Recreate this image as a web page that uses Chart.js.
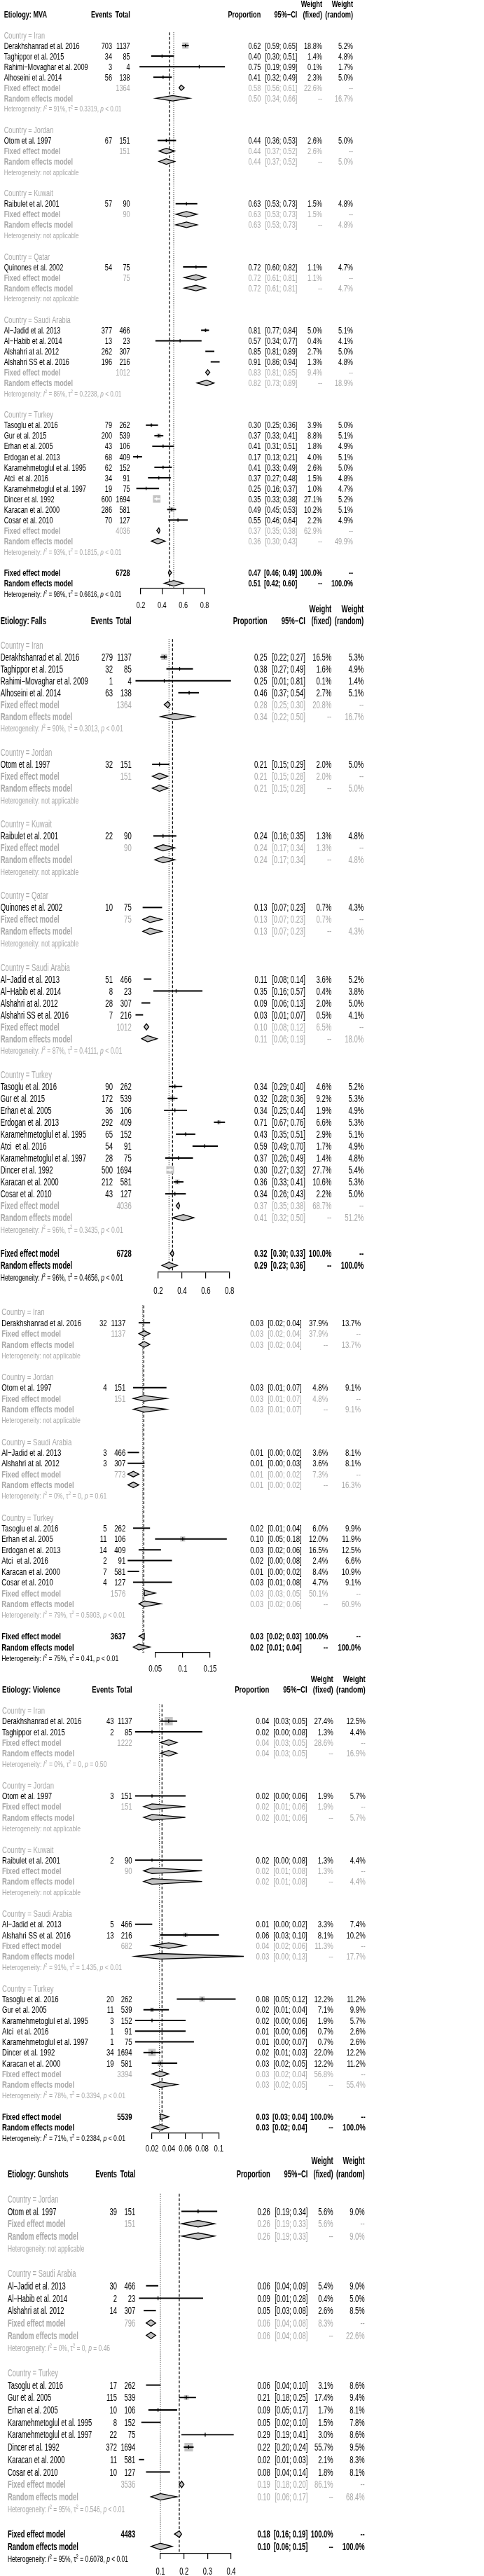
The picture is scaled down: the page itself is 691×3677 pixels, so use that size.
<!DOCTYPE html>
<html>
<head>
<meta charset="utf-8">
<title>Forest plots by etiology</title>
<script src="https://cdn.jsdelivr.net/npm/chart.js@4.4.1/dist/chart.umd.min.js"></script>
<style>
  html, body { margin: 0; padding: 0; background: #fff; }
  #wrap { position: relative; width: 691px; height: 3677px; overflow: hidden; }
  #wrap canvas { position: absolute; left: 0; top: 0; width: 691px; height: 3677px; }
</style>
</head>
<body>
<div id="wrap"></div>
<script>
// study rows: [name, country, events, total, proportion, lower, upper, weight fixed %, weight random %]
// subgroup rows: [country, total, fixed est, lo, hi, weight fixed %, random est, lo, hi, weight random %, I2, tau2, p]
// overall: [total, fixed est, lo, hi, random est, lo, hi, I2, tau2, p]

const mvaStudies = [
  ['Derakhshanrad et al. 2016', 'Iran', 703, 1137, 0.62, 0.59, 0.65, 18.8, 5.2],
  ['Taghippor et al. 2015', 'Iran', 34, 85, 0.40, 0.30, 0.51, 1.4, 4.8],
  ['Rahimi\u2212Movaghar et al. 2009', 'Iran', 3, 4, 0.75, 0.19, 0.99, 0.1, 1.7],
  ['Alhoseini et al. 2014', 'Iran', 56, 138, 0.41, 0.32, 0.49, 2.3, 5.0],
  ['Otom et al. 1997', 'Jordan', 67, 151, 0.44, 0.36, 0.53, 2.6, 5.0],
  ['Raibulet et al. 2001', 'Kuwait', 57, 90, 0.63, 0.53, 0.73, 1.5, 4.8],
  ['Quinones et al. 2002', 'Qatar', 54, 75, 0.72, 0.60, 0.82, 1.1, 4.7],
  ['Al\u2212Jadid et al. 2013', 'Saudi Arabia', 377, 466, 0.81, 0.77, 0.84, 5.0, 5.1],
  ['Al\u2212Habib et al. 2014', 'Saudi Arabia', 13, 23, 0.57, 0.34, 0.77, 0.4, 4.1],
  ['Alshahri at al. 2012', 'Saudi Arabia', 262, 307, 0.85, 0.81, 0.89, 2.7, 5.0],
  ['Alshahri SS et al. 2016', 'Saudi Arabia', 196, 216, 0.91, 0.86, 0.94, 1.3, 4.8],
  ['Tasoglu et al. 2016', 'Turkey', 79, 262, 0.30, 0.25, 0.36, 3.9, 5.0],
  ['Gur et al. 2015', 'Turkey', 200, 539, 0.37, 0.33, 0.41, 8.8, 5.1],
  ['Erhan et al. 2005', 'Turkey', 43, 106, 0.41, 0.31, 0.51, 1.8, 4.9],
  ['Erdogan et al. 2013', 'Turkey', 68, 409, 0.17, 0.13, 0.21, 4.0, 5.1],
  ['Karamehmetoglul et al. 1995', 'Turkey', 62, 152, 0.41, 0.33, 0.49, 2.6, 5.0],
  ['Atci  et al. 2016', 'Turkey', 34, 91, 0.37, 0.27, 0.48, 1.5, 4.8],
  ['Karamehmetoglul et al. 1997', 'Turkey', 19, 75, 0.25, 0.16, 0.37, 1.0, 4.7],
  ['Dincer et al. 1992', 'Turkey', 600, 1694, 0.35, 0.33, 0.38, 27.1, 5.2],
  ['Karacan et al. 2000', 'Turkey', 286, 581, 0.49, 0.45, 0.53, 10.2, 5.1],
  ['Cosar et al. 2010', 'Turkey', 70, 127, 0.55, 0.46, 0.64, 2.2, 4.9]
];
const mvaGroups = [
  ['Iran', 1364, 0.58, 0.56, 0.61, 22.6, 0.50, 0.34, 0.66, 16.7, '91%', '0.3319', '< 0.01'],
  ['Jordan', 151, 0.44, 0.37, 0.52, 2.6, 0.44, 0.37, 0.52, 5.0, null, null, null],
  ['Kuwait', 90, 0.63, 0.53, 0.73, 1.5, 0.63, 0.53, 0.73, 4.8, null, null, null],
  ['Qatar', 75, 0.72, 0.61, 0.81, 1.1, 0.72, 0.61, 0.81, 4.7, null, null, null],
  ['Saudi Arabia', 1012, 0.83, 0.81, 0.85, 9.4, 0.82, 0.73, 0.89, 18.9, '86%', '0.2238', '< 0.01'],
  ['Turkey', 4036, 0.37, 0.35, 0.38, 62.9, 0.36, 0.30, 0.43, 49.9, '93%', '0.1815', '< 0.01']
];
const mvaOverall = [6728, 0.47, 0.46, 0.49, 0.51, 0.42, 0.60, '98%', '0.6616', '< 0.01'];
const mvaTicks = [0.2, 0.4, 0.6, 0.8];
const mvaLines = [0.47, 0.51];

const fallsStudies = [
  ['Derakhshanrad et al. 2016', 'Iran', 279, 1137, 0.25, 0.22, 0.27, 16.5, 5.3],
  ['Taghippor et al. 2015', 'Iran', 32, 85, 0.38, 0.27, 0.49, 1.6, 4.9],
  ['Rahimi\u2212Movaghar et al. 2009', 'Iran', 1, 4, 0.25, 0.01, 0.81, 0.1, 1.4],
  ['Alhoseini et al. 2014', 'Iran', 63, 138, 0.46, 0.37, 0.54, 2.7, 5.1],
  ['Otom et al. 1997', 'Jordan', 32, 151, 0.21, 0.15, 0.29, 2.0, 5.0],
  ['Raibulet et al. 2001', 'Kuwait', 22, 90, 0.24, 0.16, 0.35, 1.3, 4.8],
  ['Quinones et al. 2002', 'Qatar', 10, 75, 0.13, 0.07, 0.23, 0.7, 4.3],
  ['Al\u2212Jadid et al. 2013', 'Saudi Arabia', 51, 466, 0.11, 0.08, 0.14, 3.6, 5.2],
  ['Al\u2212Habib et al. 2014', 'Saudi Arabia', 8, 23, 0.35, 0.16, 0.57, 0.4, 3.8],
  ['Alshahri at al. 2012', 'Saudi Arabia', 28, 307, 0.09, 0.06, 0.13, 2.0, 5.0],
  ['Alshahri SS et al. 2016', 'Saudi Arabia', 7, 216, 0.03, 0.01, 0.07, 0.5, 4.1],
  ['Tasoglu et al. 2016', 'Turkey', 90, 262, 0.34, 0.29, 0.40, 4.6, 5.2],
  ['Gur et al. 2015', 'Turkey', 172, 539, 0.32, 0.28, 0.36, 9.2, 5.3],
  ['Erhan et al. 2005', 'Turkey', 36, 106, 0.34, 0.25, 0.44, 1.9, 4.9],
  ['Erdogan et al. 2013', 'Turkey', 292, 409, 0.71, 0.67, 0.76, 6.6, 5.3],
  ['Karamehmetoglul et al. 1995', 'Turkey', 65, 152, 0.43, 0.35, 0.51, 2.9, 5.1],
  ['Atci  et al. 2016', 'Turkey', 54, 91, 0.59, 0.49, 0.70, 1.7, 4.9],
  ['Karamehmetoglul et al. 1997', 'Turkey', 28, 75, 0.37, 0.26, 0.49, 1.4, 4.8],
  ['Dincer et al. 1992', 'Turkey', 500, 1694, 0.30, 0.27, 0.32, 27.7, 5.4],
  ['Karacan et al. 2000', 'Turkey', 212, 581, 0.36, 0.33, 0.41, 10.6, 5.3],
  ['Cosar et al. 2010', 'Turkey', 43, 127, 0.34, 0.26, 0.43, 2.2, 5.0]
];
const fallsGroups = [
  ['Iran', 1364, 0.28, 0.25, 0.30, 20.8, 0.34, 0.22, 0.50, 16.7, '90%', '0.3013', '< 0.01'],
  ['Jordan', 151, 0.21, 0.15, 0.28, 2.0, 0.21, 0.15, 0.28, 5.0, null, null, null],
  ['Kuwait', 90, 0.24, 0.17, 0.34, 1.3, 0.24, 0.17, 0.34, 4.8, null, null, null],
  ['Qatar', 75, 0.13, 0.07, 0.23, 0.7, 0.13, 0.07, 0.23, 4.3, null, null, null],
  ['Saudi Arabia', 1012, 0.10, 0.08, 0.12, 6.5, 0.11, 0.06, 0.19, 18.0, '87%', '0.4111', '< 0.01'],
  ['Turkey', 4036, 0.37, 0.35, 0.38, 68.7, 0.41, 0.32, 0.50, 51.2, '96%', '0.3435', '< 0.01']
];
const fallsOverall = [6728, 0.32, 0.30, 0.33, 0.29, 0.23, 0.36, '96%', '0.4656', '< 0.01'];
const fallsTicks = [0.2, 0.4, 0.6, 0.8];
const fallsLines = [0.32, 0.29];

const otherStudies = [
  ['Derakhshanrad et al. 2016', 'Iran', 32, 1137, 0.03, 0.02, 0.04, 37.9, 13.7],
  ['Otom et al. 1997', 'Jordan', 4, 151, 0.03, 0.01, 0.07, 4.8, 9.1],
  ['Al\u2212Jadid et al. 2013', 'Saudi Arabia', 3, 466, 0.01, 0.00, 0.02, 3.6, 8.1],
  ['Alshahri at al. 2012', 'Saudi Arabia', 3, 307, 0.01, 0.00, 0.03, 3.6, 8.1],
  ['Tasoglu et al. 2016', 'Turkey', 5, 262, 0.02, 0.01, 0.04, 6.0, 9.9],
  ['Erhan et al. 2005', 'Turkey', 11, 106, 0.10, 0.05, 0.18, 12.0, 11.9],
  ['Erdogan et al. 2013', 'Turkey', 14, 409, 0.03, 0.02, 0.06, 16.5, 12.5],
  ['Atci  et al. 2016', 'Turkey', 2, 91, 0.02, 0.00, 0.08, 2.4, 6.6],
  ['Karacan et al. 2000', 'Turkey', 7, 581, 0.01, 0.00, 0.02, 8.4, 10.9],
  ['Cosar et al. 2010', 'Turkey', 4, 127, 0.03, 0.01, 0.08, 4.7, 9.1]
];
const otherGroups = [
  ['Iran', 1137, 0.03, 0.02, 0.04, 37.9, 0.03, 0.02, 0.04, 13.7, null, null, null],
  ['Jordan', 151, 0.03, 0.01, 0.07, 4.8, 0.03, 0.01, 0.07, 9.1, null, null, null],
  ['Saudi Arabia', 773, 0.01, 0.00, 0.02, 7.3, 0.01, 0.00, 0.02, 16.3, '0%', '0', '= 0.61'],
  ['Turkey', 1576, 0.03, 0.03, 0.05, 50.1, 0.03, 0.02, 0.06, 60.9, '79%', '0.5903', '< 0.01']
];
const otherOverall = [3637, 0.03, 0.02, 0.03, 0.02, 0.01, 0.04, '75%', '0.41', '< 0.01'];
const otherTicks = [0.05, 0.1, 0.15];
const otherLines = [0.029, 0.027];

const violenceStudies = [
  ['Derakhshanrad et al. 2016', 'Iran', 43, 1137, 0.04, 0.03, 0.05, 27.4, 12.5],
  ['Taghippor et al. 2015', 'Iran', 2, 85, 0.02, 0.00, 0.08, 1.3, 4.4],
  ['Otom et al. 1997', 'Jordan', 3, 151, 0.02, 0.00, 0.06, 1.9, 5.7],
  ['Raibulet et al. 2001', 'Kuwait', 2, 90, 0.02, 0.00, 0.08, 1.3, 4.4],
  ['Al\u2212Jadid et al. 2013', 'Saudi Arabia', 5, 466, 0.01, 0.00, 0.02, 3.3, 7.4],
  ['Alshahri SS et al. 2016', 'Saudi Arabia', 13, 216, 0.06, 0.03, 0.10, 8.1, 10.2],
  ['Tasoglu et al. 2016', 'Turkey', 20, 262, 0.08, 0.05, 0.12, 12.2, 11.2],
  ['Gur et al. 2005', 'Turkey', 11, 539, 0.02, 0.01, 0.04, 7.1, 9.9],
  ['Karamehmetoglul et al. 1995', 'Turkey', 3, 152, 0.02, 0.00, 0.06, 1.9, 5.7],
  ['Atci  et al. 2016', 'Turkey', 1, 91, 0.01, 0.00, 0.06, 0.7, 2.6],
  ['Karamehmetoglul et al. 1997', 'Turkey', 1, 75, 0.01, 0.00, 0.07, 0.7, 2.6],
  ['Dincer et al. 1992', 'Turkey', 34, 1694, 0.02, 0.01, 0.03, 22.0, 12.2],
  ['Karacan et al. 2000', 'Turkey', 19, 581, 0.03, 0.02, 0.05, 12.2, 11.2]
];
const violenceGroups = [
  ['Iran', 1222, 0.04, 0.03, 0.05, 28.6, 0.04, 0.03, 0.05, 16.9, '0%', '0', '= 0.50'],
  ['Jordan', 151, 0.02, 0.01, 0.06, 1.9, 0.02, 0.01, 0.06, 5.7, null, null, null],
  ['Kuwait', 90, 0.02, 0.01, 0.08, 1.3, 0.02, 0.01, 0.08, 4.4, null, null, null],
  ['Saudi Arabia', 682, 0.04, 0.02, 0.06, 11.3, 0.03, 0.00, 0.13, 17.7, '91%', '1.435', '< 0.01'],
  ['Turkey', 3394, 0.03, 0.02, 0.04, 56.8, 0.03, 0.02, 0.05, 55.4, '78%', '0.3394', '< 0.01']
];
const violenceOverall = [5539, 0.03, 0.03, 0.04, 0.03, 0.02, 0.04, '71%', '0.2384', '< 0.01'];
const violenceTicks = [0.02, 0.04, 0.06, 0.08, 0.1];
const violenceLines = [0.032, 0.029];

const gunshotStudies = [
  ['Otom et al. 1997', 'Jordan', 39, 151, 0.26, 0.19, 0.34, 5.6, 9.0],
  ['Al\u2212Jadid et al. 2013', 'Saudi Arabia', 30, 466, 0.06, 0.04, 0.09, 5.4, 9.0],
  ['Al\u2212Habib et al. 2014', 'Saudi Arabia', 2, 23, 0.09, 0.01, 0.28, 0.4, 5.0],
  ['Alshahri at al. 2012', 'Saudi Arabia', 14, 307, 0.05, 0.03, 0.08, 2.6, 8.5],
  ['Tasoglu et al. 2016', 'Turkey', 17, 262, 0.06, 0.04, 0.10, 3.1, 8.6],
  ['Gur et al. 2005', 'Turkey', 115, 539, 0.21, 0.18, 0.25, 17.4, 9.4],
  ['Erhan et al. 2005', 'Turkey', 10, 106, 0.09, 0.05, 0.17, 1.7, 8.1],
  ['Karamehmetoglul et al. 1995', 'Turkey', 8, 152, 0.05, 0.02, 0.10, 1.5, 7.8],
  ['Karamehmetoglul et al. 1997', 'Turkey', 22, 75, 0.29, 0.19, 0.41, 3.0, 8.6],
  ['Dincer et al. 1992', 'Turkey', 372, 1694, 0.22, 0.20, 0.24, 55.7, 9.5],
  ['Karacan et al. 2000', 'Turkey', 11, 581, 0.02, 0.01, 0.03, 2.1, 8.3],
  ['Cosar et al. 2010', 'Turkey', 10, 127, 0.08, 0.04, 0.14, 1.8, 8.1]
];
const gunshotGroups = [
  ['Jordan', 151, 0.26, 0.19, 0.33, 5.6, 0.26, 0.19, 0.33, 9.0, null, null, null],
  ['Saudi Arabia', 796, 0.06, 0.04, 0.08, 8.3, 0.06, 0.04, 0.08, 22.6, '0%', '0', '= 0.46'],
  ['Turkey', 3536, 0.19, 0.18, 0.20, 86.1, 0.10, 0.06, 0.17, 68.4, '95%', '0.546', '< 0.01']
];
const gunshotOverall = [4483, 0.18, 0.16, 0.19, 0.10, 0.06, 0.15, '95%', '0.6078', '< 0.01'];
const gunshotTicks = [0.1, 0.2, 0.3, 0.4];
const gunshotLines = [0.18, 0.10];

// page geometry of each stacked panel (pixels on the page)
const layouts = [
  { weightY: 5, headY: 20.7, y0: 50, pitch: 15.05, axisY: 839.3, tickLen: 9, labelY: 863.3, px: [201, 292], font: 12.5, refW: 108,
    col: [5.7, 160, 185.7, 372.3, 424.3, 460, 504], box: 10.7, lineStart: -0.25 },
  { weightY: 869, headY: 886, y0: 920.7, pitch: 17.03, axisY: 1815.7, tickLen: 9, labelY: 1841.7, px: [226, 327.7], font: 14.1, refW: 112.7,
    col: [0.7, 161, 187.7, 381.5, 436, 473.3, 519.3], box: 10.9, lineStart: -0.5 },
  { weightY: null, headY: null, y0: 1872.7, pitch: 15.43, axisY: 2359, tickLen: 7, labelY: 2381.7, px: [221.7, 300], font: 12.9, refW: 113.7,
    col: [2.3, 152.7, 179.3, 376, 430.7, 468.3, 515], box: 12.7, lineStart: -0.6 },
  { weightY: 2396, headY: 2411, y0: 2441.5, pitch: 15.26, axisY: 3045, tickLen: 8, labelY: 3066.7, px: [217, 312.3], font: 12.9, refW: 113.3,
    col: [3, 162.7, 188.7, 384.3, 438.7, 475.7, 521.7], box: 11.7, lineStart: -0.55 },
  { weightY: 3084.3, headY: 3103.3, y0: 3138.7, pitch: 17.72, axisY: 3645, tickLen: 8, labelY: 3670, px: [229, 330], font: 14.2, refW: 110.8,
    col: [11, 167, 193.3, 385.7, 439.3, 475.7, 520.7], box: 12.2, lineStart: -0.4 }
];

const FONT = '"Liberation Sans", Arial, Helvetica, sans-serif';
const GRAY = '#a9a9a9';
const W = 691, H = 3677;

function fmtCI(e, l, h) {
  return [e.toFixed(2), '[' + l.toFixed(2) + '; ' + h.toFixed(2) + ']'];
}
function pct(w) { return w.toFixed(1) + '%'; }

function buildRows(studies, groups, overall) {
  const rows = [];
  groups.forEach(g => {
    rows.push({ kind: 'country', name: 'Country = ' + g[0] });
    studies.filter(s => s[1] === g[0]).forEach(s => {
      const [p, c] = fmtCI(s[4], s[5], s[6]);
      rows.push({ kind: 'study', name: s[0], events: String(s[2]), total: String(s[3]),
                  prop: p, ci: c, wf: pct(s[7]), wr: pct(s[8]), study: s });
    });
    let [p, c] = fmtCI(g[2], g[3], g[4]);
    rows.push({ kind: 'fe', name: 'Fixed effect model', total: String(g[1]), prop: p, ci: c,
                wf: pct(g[5]), wr: '--', pooled: [g[2], g[3], g[4]] });
    [p, c] = fmtCI(g[6], g[7], g[8]);
    rows.push({ kind: 're', name: 'Random effects model', prop: p, ci: c,
                wf: '--', wr: pct(g[9]), pooled: [g[6], g[7], g[8]] });
    rows.push({ kind: 'het', het: g[10] ? g.slice(10) : null });
    rows.push({ kind: 'blank' });
  });
  let [p, c] = fmtCI(overall[1], overall[2], overall[3]);
  rows.push({ kind: 'ofe', name: 'Fixed effect model', total: String(overall[0]), prop: p, ci: c,
              wf: '100.0%', wr: '--', pooled: overall.slice(1, 4) });
  [p, c] = fmtCI(overall[4], overall[5], overall[6]);
  rows.push({ kind: 'ore', name: 'Random effects model', prop: p, ci: c,
              wf: '--', wr: '100.0%', pooled: overall.slice(4, 7) });
  rows.push({ kind: 'ohet', het: overall.slice(7) });
  return rows;
}

// narrow text: scale horizontally like the condensed R output
function tx(ctx, s, x, y, align, size, bold, color, sx) {
  ctx.save();
  ctx.font = (bold ? 'bold ' : '') + size + 'px ' + FONT;
  ctx.fillStyle = color;
  ctx.textBaseline = 'alphabetic';
  ctx.textAlign = 'left';
  const w = ctx.measureText(s).width * sx;
  const x0 = align === 'right' ? x - w : align === 'center' ? x - w / 2 : x;
  ctx.translate(x0, y + 0.36 * size);
  ctx.scale(sx, 1);
  ctx.fillText(s, 0, 0);
  ctx.restore();
}

function hetText(ctx, het, x, y, size, color, sx) {
  const segs = het
    ? [{ t: 'Heterogeneity: ' }, { t: 'I', it: 1 }, { t: '2', sup: 1 }, { t: ' = ' + het[0] + ', ' },
       { t: '\u03c4' }, { t: '2', sup: 1 }, { t: ' = ' + het[1] + ', ' }, { t: 'p', it: 1 }, { t: ' ' + het[2] }]
    : [{ t: 'Heterogeneity: not applicable' }];
  ctx.save();
  ctx.fillStyle = color;
  ctx.textBaseline = 'alphabetic';
  ctx.textAlign = 'left';
  ctx.translate(x, y + 0.36 * size);
  ctx.scale(sx, 1);
  let cx = 0;
  segs.forEach(s => {
    const fs = s.sup ? size * 0.7 : size;
    ctx.font = (s.it ? 'italic ' : '') + fs + 'px ' + FONT;
    ctx.fillText(s.t, cx, s.sup ? -size * 0.42 : 0);
    cx += ctx.measureText(s.t).width;
  });
  ctx.restore();
}

function forestPlugin(L, title, rows, lines, ticks) {
  return {
    id: 'forest',
    beforeDatasetsDraw(chart) {
      // reference lines: dashed = fixed effect, dotted = random effects
      const { ctx, chartArea } = chart;
      const xs = chart.scales.x, ys = chart.scales.y;
      const top = ys.getPixelForValue(L.lineStart);
      ctx.save();
      ctx.strokeStyle = '#000';
      [[lines[0], [4, 2.5], 1.2], [lines[1], [1, 2], 1]].forEach(([v, dash, lw]) => {
        const x = xs.getPixelForValue(v);
        ctx.lineWidth = lw;
        ctx.setLineDash(dash);
        ctx.beginPath();
        ctx.moveTo(x, top);
        ctx.lineTo(x, chartArea.bottom);
        ctx.stroke();
      });
      ctx.restore();
    },
    afterDatasetsDraw(chart) {
      // pooled estimates as diamonds
      const { ctx } = chart;
      const xs = chart.scales.x, ys = chart.scales.y;
      const h = L.pitch * 0.26;
      ctx.save();
      rows.forEach((r, i) => {
        if (!r.pooled) return;
        const [e, lo, hi] = r.pooled;
        const y = ys.getPixelForValue(i);
        ctx.beginPath();
        ctx.moveTo(xs.getPixelForValue(lo), y);
        ctx.lineTo(xs.getPixelForValue(e), y - h);
        ctx.lineTo(xs.getPixelForValue(hi), y);
        ctx.lineTo(xs.getPixelForValue(e), y + h);
        ctx.closePath();
        ctx.fillStyle = '#c2c2c2';
        ctx.fill();
        ctx.lineWidth = 1.3;
        ctx.strokeStyle = '#000';
        ctx.stroke();
      });
      ctx.restore();
    },
    afterDraw(chart) {
      const { ctx } = chart;
      const xs = chart.scales.x, ys = chart.scales.y;
      const f = L.font;
      ctx.font = f + 'px ' + FONT;
      const sx = L.refW / ctx.measureText('Derakhshanrad et al. 2016').width;
      const c = L.col;

      if (title) {
        tx(ctx, 'Weight', c[5], L.weightY, 'right', f, true, '#000', sx);
        tx(ctx, 'Weight', c[6], L.weightY, 'right', f, true, '#000', sx);
        tx(ctx, title, c[0], L.headY, 'left', f, true, '#000', sx);
        tx(ctx, 'Events', c[1], L.headY, 'right', f, true, '#000', sx);
        tx(ctx, 'Total', c[2], L.headY, 'right', f, true, '#000', sx);
        tx(ctx, 'Proportion', c[3], L.headY, 'right', f, true, '#000', sx);
        tx(ctx, '95%\u2212CI', c[4], L.headY, 'right', f, true, '#000', sx);
        tx(ctx, '(fixed)', c[5], L.headY, 'right', f, true, '#000', sx);
        tx(ctx, '(random)', c[6], L.headY, 'right', f, true, '#000', sx);
      }

      rows.forEach((r, i) => {
        const y = ys.getPixelForValue(i);
        const gray = ['country', 'fe', 're', 'het'].includes(r.kind);
        const color = gray ? GRAY : '#000';
        if (r.kind === 'blank') return;
        if (r.kind === 'het' || r.kind === 'ohet') {
          hetText(ctx, r.het, c[0], y, f * 0.9, color, sx);
          return;
        }
        const boldAll = r.kind === 'ofe' || r.kind === 'ore';
        const boldName = boldAll || r.kind === 'fe' || r.kind === 're';
        tx(ctx, r.name, c[0], y, 'left', f, boldName, color, sx);
        [['events', 1], ['total', 2], ['prop', 3], ['ci', 4], ['wf', 5], ['wr', 6]].forEach(([k, ci]) => {
          if (r[k]) tx(ctx, r[k], c[ci], y, 'right', f, boldAll, color, sx);
        });
      });

      ticks.forEach(v => {
        tx(ctx, String(v), xs.getPixelForValue(v), L.labelY, 'center', f, false, '#000', sx);
      });
    }
  };
}

function makePanel(i, title, studies, groups, overall, ticks, lines) {
  const L = layouts[i];
  const rows = buildRows(studies, groups, overall);

  const canvas = document.createElement('canvas');
  canvas.width = W;
  canvas.height = H;
  document.getElementById('wrap').appendChild(canvas);

  const padTop = L.y0 - 3 * L.pitch;
  const yMin = (padTop - L.y0) / L.pitch;
  const yMax = (L.axisY - L.y0) / L.pitch;

  const studyIdx = [];
  rows.forEach((r, k) => { if (r.kind === 'study') studyIdx.push(k); });
  const sq = studyIdx.map(k => ({ x: rows[k].study[4], y: k }));
  const ci = studyIdx.map(k => ({ x: [rows[k].study[5], rows[k].study[6]], y: k }));
  const wts = studyIdx.map(k => rows[k].study[7]);
  const wMax = Math.max(...wts);
  const side = n => L.box * Math.sqrt(wts[n] / wMax);
  // a CI that fits inside its square is drawn in white
  const inside = (chart, n) => {
    const xs = chart.scales.x;
    const d = xs.getPixelForValue(ci[n].x[1]) - xs.getPixelForValue(ci[n].x[0]);
    return d < side(n);
  };
  const lineColor = c => c.dataIndex !== undefined && inside(c.chart, c.dataIndex) ? '#fff' : '#000';

  new Chart(canvas, {
    type: 'bar',
    data: {
      datasets: [
        {
          type: 'scatter',
          data: sq,
          pointStyle: 'rect',
          pointRadius: c => c.dataIndex === undefined ? 0 : side(c.dataIndex) / Math.SQRT2,
          pointBackgroundColor: '#c4c4c4',
          pointBorderWidth: 0,
          clip: false,
          order: 3
        },
        {
          type: 'bar',
          indexAxis: 'y',
          data: ci,
          backgroundColor: lineColor,
          borderWidth: 0,
          barThickness: 1.3,
          grouped: false,
          clip: false,
          order: 2
        },
        {
          type: 'scatter',
          data: sq,
          pointStyle: 'line',
          pointRotation: 90,
          pointRadius: L.pitch * 0.16,
          pointBorderColor: lineColor,
          pointBorderWidth: 1.2,
          clip: false,
          order: 1
        }
      ]
    },
    options: {
      responsive: false,
      animation: false,
      devicePixelRatio: 1,
      events: [],
      layout: {
        autoPadding: false,
        padding: { left: L.px[0], right: W - L.px[1], top: padTop, bottom: H - L.axisY - L.tickLen }
      },
      plugins: { legend: { display: false }, tooltip: { enabled: false } },
      scales: {
        x: {
          type: 'linear',
          position: 'bottom',
          offset: false,
          min: ticks[0],
          max: ticks[ticks.length - 1],
          afterBuildTicks: s => { s.ticks = ticks.map(v => ({ value: v })); },
          grid: { offset: false, drawOnChartArea: false, drawTicks: true, tickLength: L.tickLen, color: '#000', lineWidth: 1.2 },
          border: { display: true, color: '#000', width: 1.2 },
          ticks: { display: false }
        },
        y: {
          type: 'linear',
          display: false,
          offset: false,
          grid: { offset: false },
          reverse: true,
          min: yMin,
          max: yMax
        }
      }
    },
    plugins: [forestPlugin(L, title, rows, lines, ticks)]
  });
}

makePanel(0, 'Etiology: MVA', mvaStudies, mvaGroups, mvaOverall, mvaTicks, mvaLines);
makePanel(1, 'Etiology: Falls', fallsStudies, fallsGroups, fallsOverall, fallsTicks, fallsLines);
makePanel(2, null, otherStudies, otherGroups, otherOverall, otherTicks, otherLines);
makePanel(3, 'Etiology: Violence', violenceStudies, violenceGroups, violenceOverall, violenceTicks, violenceLines);
makePanel(4, 'Etiology: Gunshots', gunshotStudies, gunshotGroups, gunshotOverall, gunshotTicks, gunshotLines);
</script>
</body>
</html>
